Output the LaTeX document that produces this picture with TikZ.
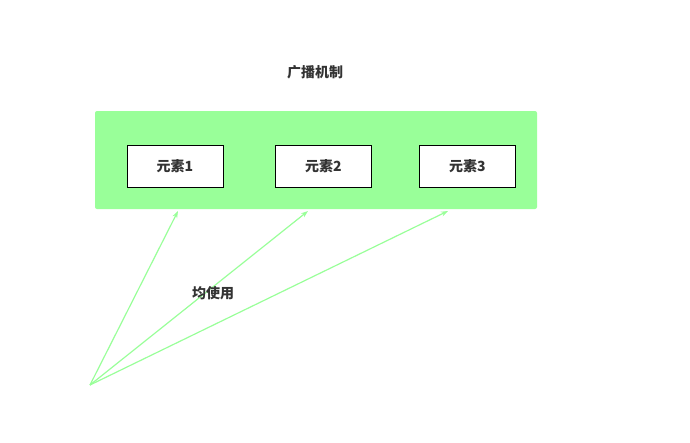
\documentclass[tikz,border=0pt]{standalone}
\usepackage{fontspec}
\newfontfamily\cjk{Noto Sans CJK SC}
\usetikzlibrary{arrows.meta}
\definecolor{lightgreen}{HTML}{99FF99}
\tikzset{
  elembox/.style = {draw=black, fill=white, line width=0.9pt, minimum width=96pt, minimum height=42pt, font=\cjk\bfseries\fontsize{14}{16}\selectfont, text=black!80},
  usearrow/.style = {draw=lightgreen, line width=1.2pt, -{Stealth[length=7pt,width=5pt]}}
}
\begin{document}
\begin{tikzpicture}[x=1pt, y=-1pt]
        \useasboundingbox (0,0) rectangle (690,442);
        \node[font=\cjk\bfseries\fontsize{14}{16}\selectfont, text=black!80] (title) at (315,72) {广播机制};
        \fill[lightgreen, rounded corners=2pt] (95,111) rectangle (537,209);
        \node[elembox] (elem1) at (175,166) {元素1};
        \node[elembox] (elem2) at (323.5,166) {元素2};
        \node[elembox] (elem3) at (467.5,166) {元素3};
        \coordinate (source) at (90,385);
        \coordinate (end1)   at (178,211);
        \coordinate (end2)   at (308,211);
        \coordinate (end3)   at (448,211);
        \draw[usearrow] (source) -- (end1);
        \draw[usearrow] (source) -- (end2);
        \draw[usearrow] (source) -- (end3);
        \node[font=\cjk\bfseries\fontsize{14}{16}\selectfont, text=black!80] (uselabel) at (213,293) {均使用};
      \end{tikzpicture}
\end{document}
